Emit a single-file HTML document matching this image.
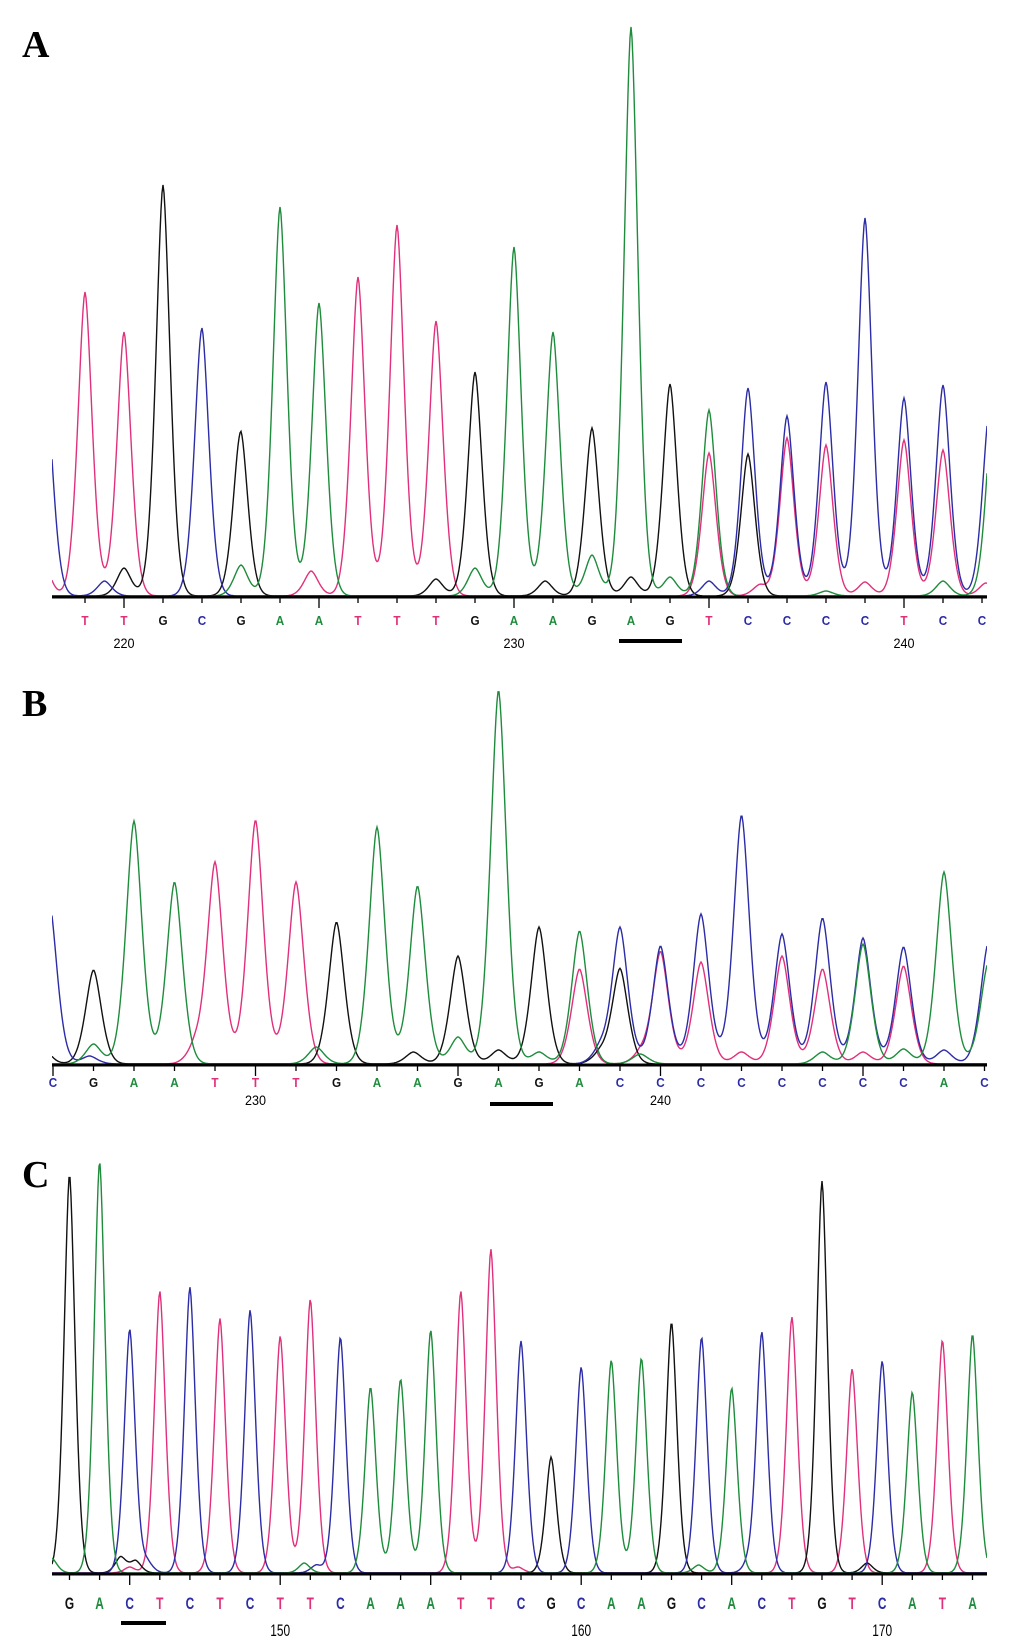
<!DOCTYPE html>
<html><head><meta charset="utf-8">
<style>
html,body{margin:0;padding:0;background:#fff;}
svg{display:block;}
.plab{font-family:"Liberation Serif",serif;font-weight:bold;font-size:38px;fill:#000;}
.base{font-family:"Liberation Sans",sans-serif;font-weight:bold;}
.num{font-family:"Liberation Sans",sans-serif;fill:#000;}
</style></head>
<body>
<svg id="chart" width="1033" height="1648" viewBox="0 0 1033 1648" xmlns="http://www.w3.org/2000/svg">
<text class="plab" x="22" y="57">A</text>
<text class="plab" x="22" y="716">B</text>
<text class="plab" x="22" y="1187">C</text>
</svg>
<script>
// ---------- Panel A data ----------
const seqA = "TTGCGAATTTGAAGAGTCCCCTCC";
const numIdxA = [1, 11, 21];
const numLabA = ["220", "230", "240"];
const peaksA_G = [[2,411],[4,149],[10,224],[13,168],[15,212],[17,142],[1,28],[3.9,19],[9,17],[11.8,15],[14,19]];
const peaksA_A = [[5,389],[6,293],[11,349],[12,264],[14,569],[16,186],[23.3,200],[4,31],[10,28],[13,41],[15,19],[19,5],[22,15]];
const peaksA_T = [[0,304],[1,264],[7,319],[8,371],[9,275],[16,143],[18,158],[19,151],[21,156],[22,146],[5.8,25],[17.3,11],[20,14],[23.1,13],[-1.1,40]];
const peaksA_C = [[-1,205],[3,254],[17,208],[18,180],[19,214],[20,378],[21,198],[22,211],[23.2,190],[0.5,15],[2.9,17],[16,15]];

// ---------- Panel B data ----------
const seqB = "CGAATTTGAAGAGACCCCCCCCAC";
const numIdxB = [5, 15];
const numLabB = ["230", "240"];
const peaksB_G = [[1,94],[7,142],[10,108],[12,137],[14,95],[8.9,12],[11,14],[13.5,10],[-0.3,20]];
const peaksB_A = [[2,243],[3,182],[8,237],[9,178],[11,374],[13,133],[20,120],[22,192],[23.1,102],[1,20],[6.5,17],[10,27],[12,12],[14.5,10],[19,12],[21,15]];
const peaksB_T = [[4,201],[5,244],[6,182],[13,95],[15,112],[16,102],[18,108],[19,95],[21,98],[3.5,16],[14.5,10],[17,12],[20,12]];
const peaksB_C = [[-0.1,165],[14,136],[15,118],[16,150],[17,249],[18,130],[19,146],[20,126],[21,117],[23.1,122],[0.9,8],[13.5,14],[22,14]];

// ---------- Panel C data ----------
const seqC = "GACTCTCTTCAAATTCGCAAGCACTGTCATA";
const numIdxC = [7, 17, 27];
const numLabC = ["150", "160", "170"];
const peaksC_G = [[0,399],[16,116],[20,251],[25,392],[1.7,16],[2.2,12],[26.5,10]];
const peaksC_A = [[1,412],[10,186],[11,194],[12,243],[18,213],[19,215],[22,185],[28,181],[30,239],[-0.6,15],[7.8,10],[20.9,8]];
const peaksC_T = [[3,282],[5,253],[7,237],[8,274],[13,282],[14,324],[24,256],[26,204],[29,233],[2,6],[4.7,5],[14.9,6]];
const peaksC_C = [[2,244],[4,286],[6,263],[9,236],[15,232],[17,206],[21,236],[23,241],[27,212],[2.6,10],[8.2,8],[22.5,6]];

const COLORS = {G:"#111111", A:"#1e8c3c", T:"#e0307c", C:"#2c2ca6"};
const svg = document.getElementById('chart');
const NS = "http://www.w3.org/2000/svg";

function mk(tag, attrs){ const e=document.createElementNS(NS,tag); for(const k in attrs) e.setAttribute(k,attrs[k]); return e; }

function drawPanel(p){
  const g = mk('g',{});
  
  
  svg.appendChild(g);
  const xOf = i => p.start + i*p.step;
  const yOf = h => p.base - h;
  const clipId = p.name+'-clip';
  const cp = mk('clipPath',{id:clipId});
  cp.appendChild(mk('rect',{x:p.x0,y:0,width:p.x1-p.x0,height:p.base+1}));
  g.appendChild(cp);
  const order = ['T','G','C','A'];
  order.forEach(ch=>{
    const peaks = p.peaks[ch];
    let d='';
    for(let x=p.x0; x<=p.x1; x+=1){
      let v=0;
      peaks.forEach(pk=>{ const dx=Math.abs(x-xOf(pk[0]))/p.sigma; v+=pk[1]*Math.exp(-0.5*Math.pow(dx,1.7)); });
      d += (x===p.x0?'M':'L') + x + ',' + yOf(v+1).toFixed(1);
    }
    const path = mk('path',{d:d,fill:'none',stroke:COLORS[ch],'stroke-width':1.4,'clip-path':'url(#'+clipId+')'});
    
    
    g.appendChild(path);
  });
  const axis = mk('line',{x1:p.x0,y1:p.base,x2:p.x1,y2:p.base,stroke:'#000','stroke-width':3});
  
  
  g.appendChild(axis);
  for(let i=0;i<p.seq.length;i++){
    const x=xOf(i);
    const long = ((i - p.longOff) % 5 === 0);
    const t = mk('line',{x1:x,y1:p.base,x2:x,y2:p.base+(long?11:6),stroke:'#000','stroke-width':1.3});
    
    
    g.appendChild(t);
    const ch=p.seq[i];
    const tx = mk('text',{x:0,y:0,'text-anchor':'middle',fill:COLORS[ch],class:'base',style:'font-size:'+p.fs+'px',
      transform:'translate('+x+','+p.letterY+') scale('+p.sx+',1)'});
    tx.textContent=ch;
    
    
    g.appendChild(tx);
  }
  p.numIdx.forEach((ni,k)=>{
    const tx = mk('text',{x:0,y:0,'text-anchor':'middle',class:'num',style:'font-size:'+p.nfs+'px',
      transform:'translate('+xOf(ni)+','+p.numY+') scale('+p.sx+',1)'});
    tx.textContent=p.numLab[k];
    
    
    g.appendChild(tx);
  });
  const bar = mk('rect',{x:p.bar[0],y:p.bar[2]-2,width:p.bar[1]-p.bar[0],height:4,fill:'#000'});
  
  
  g.appendChild(bar);
}

drawPanel({name:'panel-a',x0:52,x1:987,base:597,start:85,step:39,sigma:6.8,seq:seqA,longOff:1,
  letterY:625,numY:648,fs:13,nfs:14,sx:0.9,numIdx:numIdxA,numLab:numLabA,bar:[619,682,641],
  peaks:{G:peaksA_G,A:peaksA_A,T:peaksA_T,C:peaksA_C}});
drawPanel({name:'panel-b',x0:52,x1:987,base:1065,start:53,step:40.5,sigma:7.6,seq:seqB,longOff:0,
  letterY:1087,numY:1105,fs:13,nfs:14,sx:0.9,numIdx:numIdxB,numLab:numLabB,bar:[490,553,1104],
  peaks:{G:peaksB_G,A:peaksB_A,T:peaksB_T,C:peaksB_C}});
drawPanel({name:'panel-c',x0:52,x1:987,base:1574,start:69.5,step:30.1,sigma:5.3,seq:seqC,longOff:2,
  letterY:1609,numY:1636,fs:17,nfs:17,sx:0.7,numIdx:numIdxC,numLab:numLabC,bar:[121,166,1623],
  peaks:{G:peaksC_G,A:peaksC_A,T:peaksC_T,C:peaksC_C}});
</script>
</body></html>
